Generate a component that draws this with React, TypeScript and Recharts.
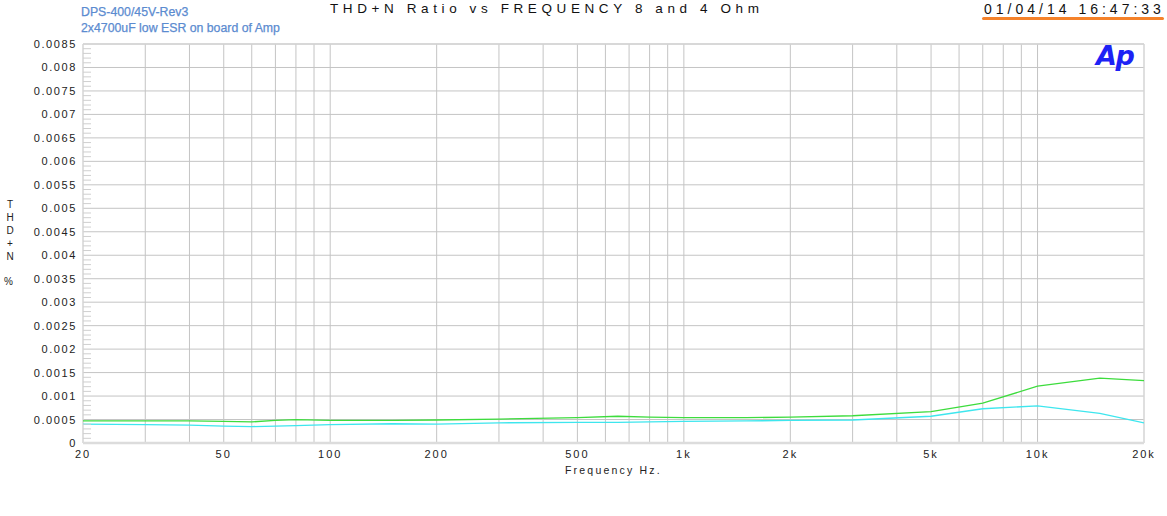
import React from 'react';
import { LineChart, Line, XAxis, YAxis, ReferenceLine } from 'recharts';

const frequencies = [20, 30, 40, 50, 60, 70, 80, 100, 150, 200, 300, 500, 650, 800, 1000, 1500, 2000, 3000, 5000, 7000, 10000, 15000, 20000];
const thdGreen = [0.00047, 0.00047, 0.00047, 0.00046, 0.00045, 0.00048, 0.0005, 0.00048, 0.00048, 0.00049, 0.00051, 0.00054, 0.00057, 0.00055, 0.00054, 0.00054, 0.00055, 0.00058, 0.00067, 0.00085, 0.00121, 0.00138, 0.00133];
const thdCyan = [0.0004, 0.00039, 0.00038, 0.00036, 0.00035, 0.00036, 0.00037, 0.00039, 0.00041, 0.0004, 0.00043, 0.00044, 0.00044, 0.00045, 0.00046, 0.00047, 0.00048, 0.00049, 0.00057, 0.00073, 0.00079, 0.00063, 0.00043];

const xTicks = [20, 50, 100, 200, 500, 1000, 2000, 5000, 10000, 20000];
const xGrid = [30, 40, 50, 60, 70, 80, 90, 100, 200, 300, 400, 500, 600, 700, 800, 900, 1000, 2000, 3000, 4000, 5000, 6000, 7000, 8000, 9000, 10000];
const yMajor = [0, 0.0005, 0.001, 0.0015, 0.002, 0.0025, 0.003, 0.0035, 0.004, 0.0045, 0.005, 0.0055, 0.006, 0.0065, 0.007, 0.0075, 0.008, 0.0085];
const yAllTicks = Array.from({ length: 86 }, (_, i) => Number((i * 0.0001).toFixed(4)));

const data = frequencies.map((f, i) => ({ f, green: thdGreen[i], cyan: thdCyan[i] }));

const fmtX = (v: number) => (v >= 1000 ? `${v / 1000}k` : `${v}`);
const isMajor = (v: number) => yMajor.some((m) => Math.abs(m - v) < 1e-9);

const YTick = (props: any) => {
  const { x, y, payload } = props;
  const v = payload.value;
  if (isMajor(v)) {
    return (
      <text x={x} y={y} dy={4} textAnchor="end" fontSize={11} fill="#222" style={{ letterSpacing: '1.6px' }} fontFamily="Liberation Sans, Arial, sans-serif">
        {Number(v.toFixed(4)).toString()}
      </text>
    );
  }
  return <line x1={x + 6} x2={x + 14} y1={y} y2={y} stroke="#cfcfcf" strokeWidth={1} />;
};

const XTick = (props: any) => {
  const { x, y, payload } = props;
  return (
    <text x={x} y={y} dy={7} textAnchor="middle" fontSize={11} fill="#222" style={{ letterSpacing: '2px' }} fontFamily="Liberation Sans, Arial, sans-serif">
      {fmtX(payload.value)}
    </text>
  );
};

const font = 'Liberation Sans, Arial, sans-serif';

export default function App() {
  return (
    <div style={{ position: 'absolute', left: 0, top: 0, width: 1167, height: 516, background: '#fff', fontFamily: font }}>
      <LineChart width={1167} height={516} data={data} margin={{ top: 44, right: 23, bottom: 43, left: 8 }}>
        <XAxis
          dataKey="f"
          type="number"
          scale="log"
          domain={[20, 20000]}
          ticks={xTicks}
          tick={<XTick />}
          tickLine={false}
          axisLine={false}
          interval={0}
          height={30}
          allowDataOverflow
        />
        <YAxis
          type="number"
          domain={[0, 0.0085]}
          ticks={yAllTicks}
          tick={<YTick />}
          tickLine={false}
          tickSize={0}
          tickMargin={6}
          axisLine={false}
          interval={0}
          width={75}
          allowDataOverflow
        />
        {xGrid.map((v) => (
          <ReferenceLine key={`vx${v}`} x={v} stroke="#c4c4c4" strokeWidth={1} ifOverflow="visible" />
        ))}
        {yMajor.map((v) => (
          <ReferenceLine key={`hy${v}`} y={v} stroke="#c4c4c4" strokeWidth={1} ifOverflow="visible" />
        ))}
        <ReferenceLine x={20} stroke="#d4d4d4" strokeWidth={1.5} ifOverflow="visible" />
        <ReferenceLine x={20000} stroke="#d4d4d4" strokeWidth={1.5} ifOverflow="visible" />
        <ReferenceLine y={0} stroke="#dcdcdc" strokeWidth={2.5} ifOverflow="visible" />
        <ReferenceLine y={0.0085} stroke="#d4d4d4" strokeWidth={1.5} ifOverflow="visible" />
        <Line type="linear" dataKey="green" stroke="#3ddc3d" strokeWidth={1.3} dot={false} isAnimationActive={false} />
        <Line type="linear" dataKey="cyan" stroke="#3ee6ee" strokeWidth={1.3} dot={false} isAnimationActive={false} />
      </LineChart>

      <div style={{ position: 'absolute', left: 81, top: 4, fontSize: 12.3, color: '#5b8bd0', lineHeight: '16px', whiteSpace: 'nowrap', WebkitTextStroke: '0.25px #5b8bd0' }}>
        DPS-400/45V-Rev3
        <br />
        2x4700uF low ESR on board of Amp
      </div>
      <div style={{ position: 'absolute', left: 330, top: 0, fontSize: 13.5, color: '#111', letterSpacing: '4.6px', whiteSpace: 'nowrap', lineHeight: '18px' }}>
        THD+N Ratio vs FREQUENCY 8 and 4 Ohm
      </div>
      <div style={{ position: 'absolute', left: 984, top: 0, fontSize: 14, color: '#111', letterSpacing: '4px', whiteSpace: 'nowrap', lineHeight: '18px' }}>
        01/04/14 16:47:33
      </div>
      <div style={{ position: 'absolute', left: 982, top: 17, width: 182, height: 3, background: '#f5822a', borderRadius: 2 }} />
      <div style={{ position: 'absolute', left: 1096, top: 41, fontSize: 27, fontWeight: 'bold', fontStyle: 'italic', color: '#1d22f5', whiteSpace: 'nowrap', lineHeight: '30px', letterSpacing: '-1.5px', fontFamily: 'DejaVu Sans, sans-serif' }}>
        Ap
      </div>
      <div style={{ position: 'absolute', left: 5, top: 198, width: 10, fontSize: 10, color: '#222', textAlign: 'center', lineHeight: '13px' }}>
        {['T', 'H', 'D', '+', 'N'].map((c) => (
          <div key={c}>{c}</div>
        ))}
      </div>
      <div style={{ position: 'absolute', left: 4, top: 276, fontSize: 10, color: '#222' }}>%</div>
      <div style={{ position: 'absolute', left: 565, top: 464, fontSize: 10.5, color: '#222', letterSpacing: '2.2px', whiteSpace: 'nowrap' }}>
        Frequency Hz.
      </div>
    </div>
  );
}
